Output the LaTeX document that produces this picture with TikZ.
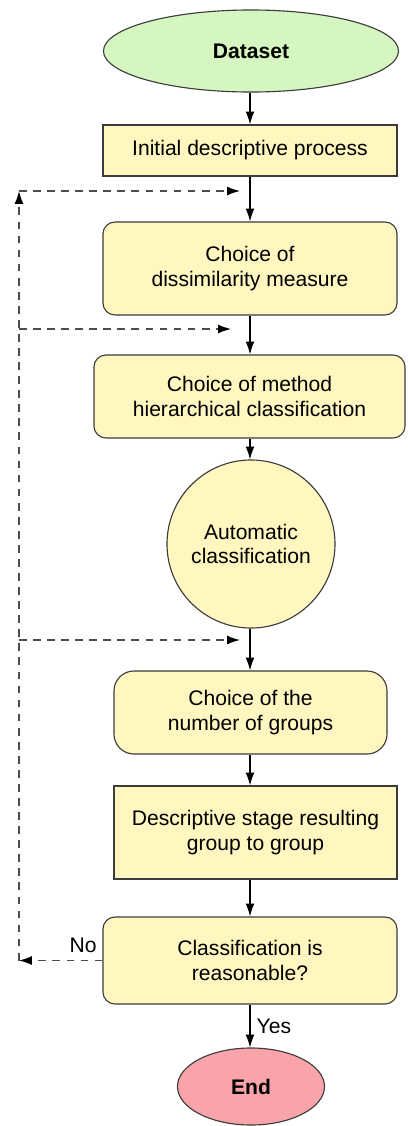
\documentclass[tikz,border=0pt]{standalone}
\usepackage{fontspec}
\setmainfont{Liberation Sans}
\usepackage{tikz}
\usetikzlibrary{shapes.geometric,arrows.meta}

\definecolor{boxyellow}{RGB}{255,246,192}
\definecolor{startgreen}{RGB}{213,246,192}
\definecolor{endpink}{RGB}{249,163,171}
\definecolor{edgegray}{RGB}{60,60,60}

\tikzset{
  every node/.style={font=\fontsize{15}{17.5}\selectfont, align=center, text=black},
  stepbox/.style={draw=edgegray, line width=0.8pt, fill=boxyellow, inner sep=2pt},
  roundbox/.style={stepbox, rounded corners=0.3cm},
  termnode/.style={draw=edgegray, line width=0.8pt, ellipse, inner sep=0pt, font=\fontsize{15}{17}\selectfont\bfseries},
  flow/.style={-{Latex[length=3.2mm,width=2.2mm]}, line width=0.8pt},
  fb/.style={-{Latex[length=3.2mm,width=2.2mm,black]}, dashed, dash pattern=on 5.5pt off 4.5pt, line width=0.9pt, draw=black!70}
}

\begin{document}
\begin{tikzpicture}[x=0.025cm,y=-0.025cm]
\useasboundingbox (0,0) rectangle (408,1126);

% the steps
\node[termnode, fill=startgreen, minimum width=7.375cm, minimum height=2.05cm] (data) at (251,51) {Dataset};
\node[stepbox, minimum width=7.35cm, minimum height=1.275cm] (init) at (250,150.5) {Initial descriptive process};
\node[roundbox, minimum width=7.35cm, minimum height=2.325cm] (diss) at (250,268.5) {Choice of\\ dissimilarity measure};
\node[roundbox, minimum width=7.775cm, minimum height=2.075cm] (meth) at (249.5,396.5) {Choice of method\\ hierarchical classification};
\node[stepbox, circle, minimum size=4.2cm] (auto) at (251,544) {Automatic\\ classification};
\node[roundbox, rounded corners=0.5cm, minimum width=6.825cm, minimum height=2.075cm] (num) at (250.5,712.5) {Choice of the\\ number of groups};
\node[stepbox, minimum width=7.075cm, minimum height=2.325cm] (desc) at (255.5,832.5) {Descriptive stage resulting\\ group to group};
\node[roundbox, minimum width=7.35cm, minimum height=2.175cm] (cls) at (250,960.5) {Classification is\\ reasonable?};
\node[termnode, fill=endpink, minimum width=3.675cm, minimum height=1.925cm] (fin) at (251,1086.5) {End};

% main flow
\foreach \a/\b in {data/init, init/diss, diss/meth, meth/auto, auto/num, num/desc, desc/cls}
  \draw[flow] (\a.south -| init.center) -- (\b.north -| init.center);
\draw[flow] (cls.south -| init.center) -- node[right, xshift=1pt] {Yes} (fin.north -| init.center);

% feedback loops
\coordinate (lb) at (19,960.5);
\coordinate (lt) at (19,191);
\coordinate (l2) at (19,329);
\coordinate (l3) at (19,640);
\coordinate (e1) at (240,191);
\coordinate (e2) at (231,329);
\coordinate (e3) at (240,640);

\draw[fb] (cls.west) -- node[pos=0.23, above, yshift=2pt] {No} (lb);
\draw[fb] (lb) -- (lt);
\draw[fb] (lt) -- (e1);
\draw[fb] (l2) -- (e2);
\draw[fb] (l3) -- (e3);
\end{tikzpicture}
\end{document}
